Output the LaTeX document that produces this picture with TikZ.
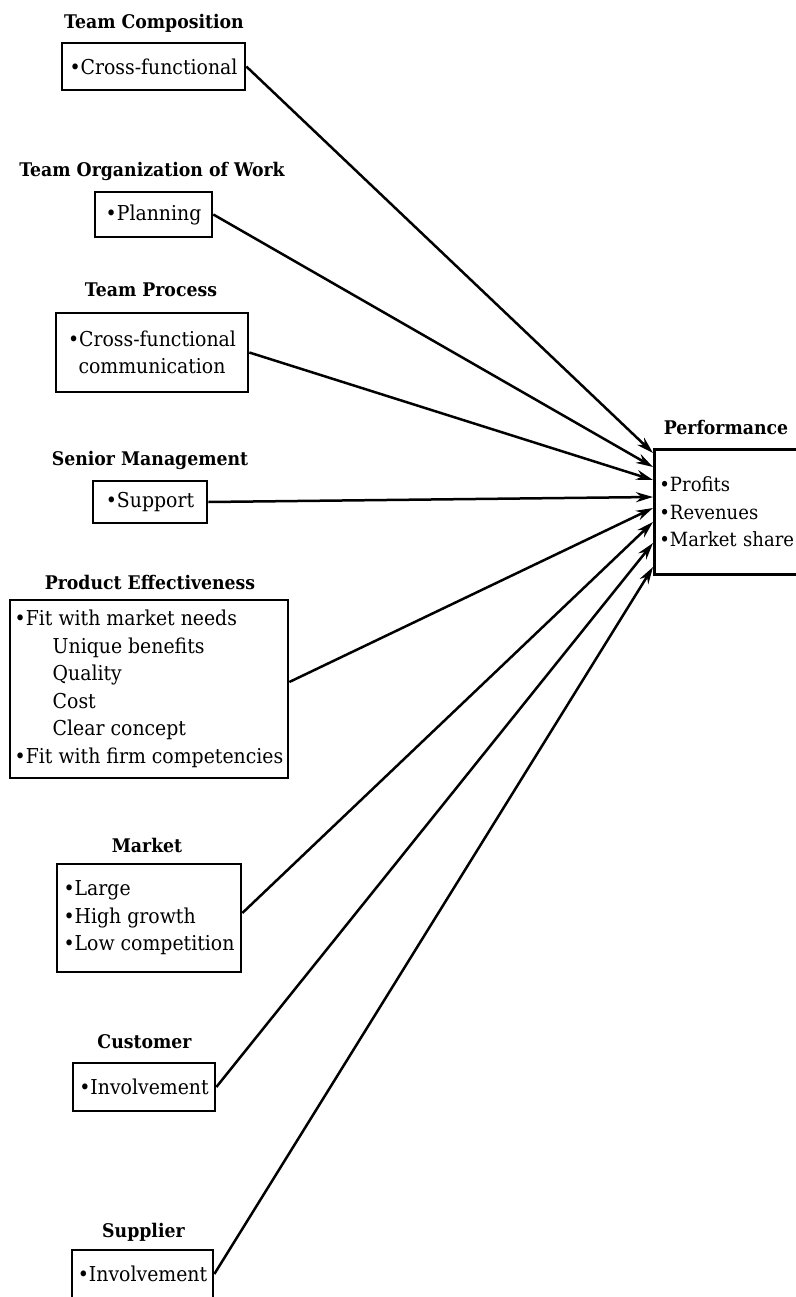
\documentclass[tikz,border=0pt]{standalone}
\usepackage{fontspec}
\setmainfont{DejaVu Serif}[FakeStretch=0.92]
\usetikzlibrary{arrows.meta,calc}

\begin{document}
\begin{tikzpicture}[x=1pt,y=-1pt,
  every node/.style={inner sep=0pt, font=\fontsize{20.5}{27.5}\selectfont},
  title/.style={font=\bfseries\fontsize{18.8}{24}\selectfont},
  box/.style={draw, line width=2.7pt},
  arr/.style={line width=2.5pt, -{Stealth[length=17pt,width=10pt]}}]

\useasboundingbox (0,0) rectangle (795,1297);

% factor titles
\node[title] (tct) at (154,23)   {Team Composition};
\node[title] (owt) at (152,171)  {Team Organization of Work};
\node[title] (tpt) at (151,290)  {Team Process};
\node[title] (smt) at (150,460)  {Senior Management};
\node[title] (pet) at (150,582)  {Product Effectiveness};
\node[title] (mkt) at (147,845)  {Market};
\node[title] (cut) at (144.5,1042) {Customer};
\node[title] (sut) at (143.5,1232) {Supplier};
\node[title] (pft) at (726,427)  {Performance};

% factor boxes
\node[box, minimum width=183, minimum height=47] (tc) at (153.5,66.5) {•Cross-functional};
\node[box, minimum width=117, minimum height=45] (ow) at (153.5,214.5) {•Planning};
\node[box, minimum width=192, minimum height=79, align=center] (tp) at (152,352.5)
  {•Cross-functional\\communication};
\node[box, minimum width=114, minimum height=42] (sm) at (150,502) {•Support};
\node[box, minimum width=278, minimum height=178, align=left] (pe) at (149,689)
  {•Fit with market needs\\
   \hspace*{38pt}Unique benefits\\
   \hspace*{38pt}Quality\\
   \hspace*{38pt}Cost\\
   \hspace*{38pt}Clear concept\\
   •Fit with firm competencies};
\node[box, minimum width=184, minimum height=108, align=left] (mk) at (149,918)
  {•Large\\•High growth\\•Low competition};
\node[box, minimum width=142, minimum height=48] (cu) at (144,1087) {•Involvement};
\node[box, minimum width=141, minimum height=48] (su) at (142.5,1274) {•Involvement};

% outcome box (its right side runs past the page edge)
\node[box, anchor=north west, minimum height=125, text width=150, align=left,
      inner xsep=5pt, font=\fontsize{19.6}{27.5}\selectfont] (pf) at (653,448)
  {•Profits\\•Revenues\\•Market share};

% connectors
\draw[arr] (tc.east) -- ($(pf.north west)+(0,5)$);
\draw[arr] (ow.east) -- ($(pf.north west)+(0,19)$);
\draw[arr] (tp.east) -- ($(pf.north west)+(0,32)$);
\draw[arr] (sm.east) -- ($(pf.north west)+(0,49)$);
\draw[arr] ($(pe.east)+(0,-7)$) -- ($(pf.north west)+(0,60)$);
\draw[arr] ($(mk.east)+(0,-5)$) -- ($(pf.north west)+(0,74)$);
\draw[arr] (cu.east) -- ($(pf.north west)+(0,95)$);
\draw[arr] (su.east) -- ($(pf.north west)+(0,119)$);
\end{tikzpicture}
\end{document}
